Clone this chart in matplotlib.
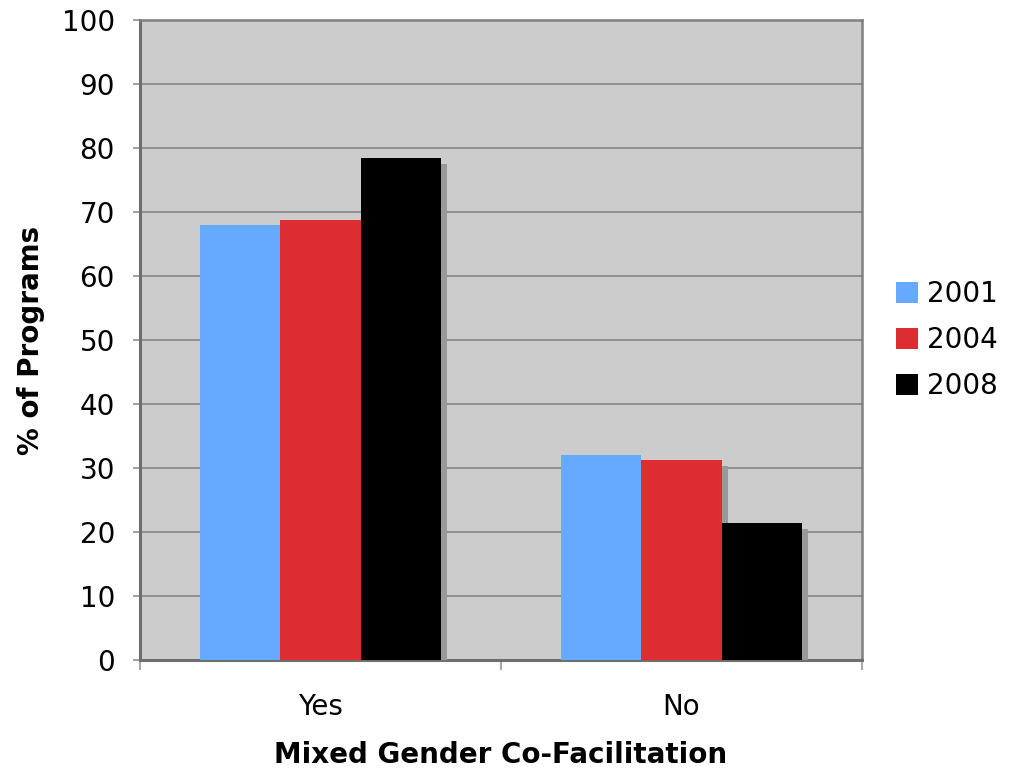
import matplotlib.pyplot as plt
import matplotlib.patheffects as pe
import numpy as np

categories = ["Yes", "No"]
years = ["2001", "2004", "2008"]
values_2001 = [68.0, 32.0]
values_2004 = [68.75, 31.25]
values_2008 = [78.5, 21.4]
colors = ["#66aaff", "#dd2c32", "#000000"]

plt.rcParams['font.family'] = ['DejaVu Sans']

fig = plt.figure(figsize=(10.1, 7.74), dpi=100)
ax = fig.add_axes([0.1386, 0.1473, 0.7149, 0.8269])
ax.set_facecolor("#cccccc")

x = np.arange(len(categories))
w = 0.222
shadow = [pe.SimplePatchShadow(offset=(4.5, -4.5), shadow_rgbFace="#999999", alpha=1.0), pe.Normal()]
for i, (vals, yr) in enumerate(zip([values_2001, values_2004, values_2008], years)):
    ax.bar(x + (i - 1) * w, vals, w, color=colors[i], label=yr, zorder=3, path_effects=shadow)

ax.set_xlim(-0.5, 1.5)
ax.set_ylim(0, 100)
ax.set_yticks(range(0, 101, 10))
ax.yaxis.grid(True, color="#8a8a8a", linewidth=1.3, zorder=1)
ax.set_axisbelow(True)

ax.set_xticks(x)
ax.set_xticklabels(categories)
ax.set_xticks([-0.5, 0.5, 1.5], minor=True)
ax.tick_params(axis="x", which="major", length=0, pad=24, labelsize=20)
ax.tick_params(axis="x", which="minor", length=7, width=1.5, color="#aaaaaa")
ax.tick_params(axis="y", length=5, width=1.3, color="#999999", labelsize=20, pad=13)

for s in ax.spines.values():
    s.set_color("#808080")
    s.set_linewidth(1.8)
ax.spines["left"].set_color("#6e6e6e")
ax.spines["bottom"].set_color("#6e6e6e")
ax.spines["left"].set_linewidth(2.2)
ax.spines["bottom"].set_linewidth(2.2)

ax.set_xlabel("Mixed Gender Co-Facilitation", fontsize=20, fontweight="bold", labelpad=14)
ax.set_ylabel("% of Programs", fontsize=20, fontweight="bold", labelpad=12)

leg = ax.legend(loc="center left", bbox_to_anchor=(1.0125, 0.5), frameon=False, fontsize=20,
                handlelength=0.8, handleheight=0.8, handletextpad=0.3, labelspacing=0.65)
for h in leg.legend_handles:
    h.set_path_effects([])

fig.savefig("out.png", dpi=100)
